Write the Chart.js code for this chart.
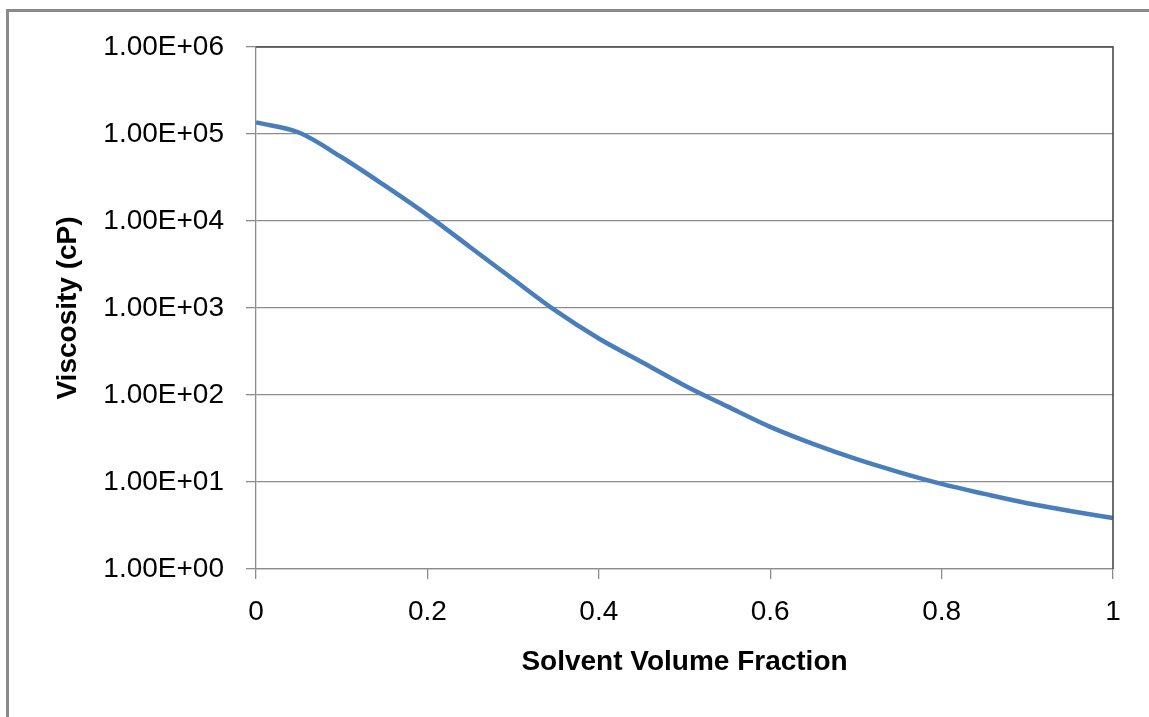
<!DOCTYPE html>
<html>
<head>
<meta charset="utf-8">
<script src="https://cdn.jsdelivr.net/npm/chart.js@4"></script>
<style>
  html, body { margin: 0; padding: 0; background: #fff; }
  #wrap { position: relative; width: 1149px; height: 717px; overflow: hidden; }
  #frame { position: absolute; left: 6px; top: 9px; right: -10px; bottom: -10px;
           border-top: 3px solid #8a8a8a; border-left: 3px solid #8a8a8a; }
  canvas { position: absolute; left: 0; top: 0; }
</style>
</head>
<body>
<div id="wrap">
  <div id="frame"></div>
  <canvas id="chart" width="1149" height="717"></canvas>
</div>
<script>
// values
const fraction = [0, 0.05, 0.1, 0.15, 0.2, 0.25, 0.3, 0.35, 0.4, 0.45, 0.5,
                  0.55, 0.6, 0.65, 0.7, 0.75, 0.8, 0.85, 0.9, 0.95, 1]
const viscosity = [136000, 104000, 54000, 25600, 11700, 5000, 2140, 925, 446, 240, 129,
                   74, 43, 27.4, 18.4, 13.0, 9.5, 7.3, 5.7, 4.65, 3.85]

const yTicks = [1, 10, 100, 1000, 10000, 100000, 1000000]
const yTickLabels = ['1.00E+00', '1.00E+01', '1.00E+02', '1.00E+03', '1.00E+04', '1.00E+05', '1.00E+06']
const xTicks = [0, 0.2, 0.4, 0.6, 0.8, 1]
const xTickLabels = ['0', '0.2', '0.4', '0.6', '0.8', '1']

const points = fraction.map((f, i) => ({x: f, y: viscosity[i]}))

const GRID = '#8c8c8c'
const FONT = "'Liberation Sans', Arial, sans-serif"

// dark top/right edge of the plot area
const plotFrame = {
  id: 'plotFrame',
  afterDatasetsDraw(chart) {
    const {ctx, chartArea} = chart
    ctx.save()
    ctx.strokeStyle = '#4a4a4a'
    ctx.lineWidth = 1.6
    ctx.beginPath()
    ctx.moveTo(chartArea.left, chartArea.top)
    ctx.lineTo(chartArea.right, chartArea.top)
    ctx.lineTo(chartArea.right, chartArea.bottom)
    ctx.stroke()
    ctx.restore()
  }
}

new Chart("chart", {
  type: "scatter",
  data: {
    datasets: [{
      data: points,
      showLine: true,
      borderColor: '#4a7ebb',
      borderWidth: 4.5,
      pointRadius: 0,
      cubicInterpolationMode: 'monotone',
      clip: false
    }]
  },
  options: {
    responsive: false,
    animation: false,
    layout: {padding: {left: 0, top: 47, right: 36, bottom: 0}},
    plugins: {legend: {display: false}, tooltip: {enabled: false}},
    scales: {
      x: {
        type: 'linear',
        min: 0,
        max: 1,
        afterBuildTicks: (scale) => { scale.ticks = xTicks.map(v => ({value: v})) },
        afterFit: (scale) => { scale.height = 148 },
        ticks: {
          callback: (v) => xTickLabels[xTicks.indexOf(v)],
          color: '#000',
          font: {family: FONT, size: 28},
          padding: 16,
          maxRotation: 0
        },
        grid: {drawOnChartArea: false, drawTicks: true, tickLength: 10, color: GRID, lineWidth: 1.3},
        border: {color: GRID, width: 1.3},
        title: {
          display: true,
          text: 'Solvent Volume Fraction',
          color: '#000',
          font: {family: FONT, size: 28, weight: 'bold'},
          padding: {top: 0, bottom: 38}
        }
      },
      y: {
        type: 'logarithmic',
        min: 1,
        max: 1000000,
        afterBuildTicks: (scale) => { scale.ticks = yTicks.map(v => ({value: v})) },
        afterFit: (scale) => { scale.width = 256 },
        ticks: {
          callback: (v) => yTickLabels[yTicks.indexOf(v)],
          color: '#000',
          font: {family: FONT, size: 28},
          padding: 22
        },
        grid: {color: GRID, tickColor: GRID, lineWidth: 1.3, tickLength: 10},
        border: {color: GRID, width: 1.3},
        title: {
          display: true,
          text: 'Viscosity (cP)',
          color: '#000',
          font: {family: FONT, size: 28, weight: 'bold'},
          padding: {top: 51, bottom: 0}
        }
      }
    }
  },
  plugins: [plotFrame]
})
</script>
</body>
</html>
